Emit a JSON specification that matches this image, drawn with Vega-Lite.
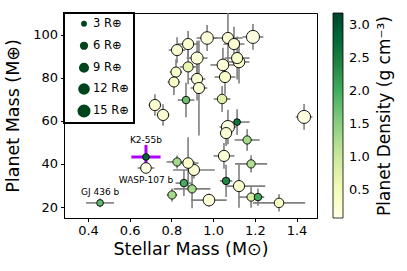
{
  "$schema": "https://vega.github.io/schema/vega-lite/v6.json",
  "autosize": {"type": "none"},
  "padding": {"left": 64, "top": 13, "right": 90, "bottom": 53},
  "width": 253,
  "height": 205,
  "background": "white",
  "config": {
    "font": "DejaVu Sans",
    "view": {"stroke": "black", "strokeWidth": 1},
    "axis": {
      "grid": false,
      "domainColor": "black",
      "tickColor": "black",
      "tickSize": 3.5,
      "labelColor": "black",
      "labelFontSize": 13,
      "labelPadding": 3,
      "titleColor": "black",
      "titleFontSize": 17.5,
      "titleFontWeight": "normal"
    },
    "legend": {"strokeWidth": 2}
  },
  "resolve": {"axis": {"y": "independent"}},
  "data": {
    "values": [
      {"name": "", "ms": 0.971, "mslo": 0.921, "mshi": 1.021, "mp": 98.4, "mplo": 92.4, "mphi": 104.4, "r": 14, "rho": 0.15},
      {"name": "", "ms": 1.071, "mslo": 1.001, "mshi": 1.141, "mp": 98.4, "mplo": 86, "mphi": 118, "r": 11, "rho": 0.25},
      {"name": "", "ms": 1.100, "mslo": 1.05, "mshi": 1.15, "mp": 95.6, "mplo": 87.6, "mphi": 103.6, "r": 11, "rho": 0.25},
      {"name": "", "ms": 1.191, "mslo": 1.141, "mshi": 1.241, "mp": 98.9, "mplo": 92.9, "mphi": 104.9, "r": 15, "rho": 0.12},
      {"name": "", "ms": 0.880, "mslo": 0.83, "mshi": 0.93, "mp": 95.6, "mplo": 89.6, "mphi": 101.6, "r": 11, "rho": 0.25},
      {"name": "", "ms": 0.827, "mslo": 0.787, "mshi": 0.867, "mp": 92.8, "mplo": 86.8, "mphi": 98.8, "r": 11, "rho": 0.25},
      {"name": "", "ms": 0.923, "mslo": 0.873, "mshi": 0.973, "mp": 89.1, "mplo": 81.1, "mphi": 97.1, "r": 13, "rho": 0.18},
      {"name": "", "ms": 0.822, "mslo": 0.792, "mshi": 0.852, "mp": 82.6, "mplo": 76.6, "mphi": 88.6, "r": 9, "rho": 0.3},
      {"name": "", "ms": 0.880, "mslo": 0.84, "mshi": 0.92, "mp": 85.0, "mplo": 77, "mphi": 93, "r": 9, "rho": 0.65},
      {"name": "", "ms": 0.812, "mslo": 0.782, "mshi": 0.842, "mp": 78.0, "mplo": 72, "mphi": 84, "r": 9, "rho": 0.35},
      {"name": "", "ms": 0.923, "mslo": 0.883, "mshi": 0.963, "mp": 79.4, "mplo": 69.4, "mphi": 89.4, "r": 11, "rho": 0.25},
      {"name": "", "ms": 0.932, "mslo": 0.892, "mshi": 0.972, "mp": 75.2, "mplo": 53.2, "mphi": 97.2, "r": 11, "rho": 0.25},
      {"name": "", "ms": 0.870, "mslo": 0.83, "mshi": 0.91, "mp": 69.6, "mplo": 61.6, "mphi": 77.6, "r": 5, "rho": 1.7},
      {"name": "", "ms": 0.721, "mslo": 0.691, "mshi": 0.751, "mp": 67.3, "mplo": 62.3, "mphi": 72.3, "r": 11, "rho": 0.25},
      {"name": "", "ms": 0.760, "mslo": 0.73, "mshi": 0.79, "mp": 62.7, "mplo": 57.7, "mphi": 67.7, "r": 11, "rho": 0.25},
      {"name": "", "ms": 1.047, "mslo": 0.987, "mshi": 1.107, "mp": 85.9, "mplo": 77.9, "mphi": 93.9, "r": 12, "rho": 0.2},
      {"name": "", "ms": 1.115, "mslo": 1.055, "mshi": 1.175, "mp": 89.1, "mplo": 79.1, "mphi": 99.1, "r": 11, "rho": 0.3},
      {"name": "", "ms": 1.124, "mslo": 1.074, "mshi": 1.174, "mp": 87.3, "mplo": 77.3, "mphi": 97.3, "r": 12, "rho": 0.25},
      {"name": "", "ms": 1.057, "mslo": 1.007, "mshi": 1.107, "mp": 80.3, "mplo": 72.3, "mphi": 88.3, "r": 11, "rho": 0.3},
      {"name": "", "ms": 1.043, "mslo": 1.003, "mshi": 1.083, "mp": 70.1, "mplo": 64.1, "mphi": 76.1, "r": 8, "rho": 0.75},
      {"name": "", "ms": 1.115, "mslo": 1.055, "mshi": 1.175, "mp": 59.4, "mplo": 53.4, "mphi": 65.4, "r": 4, "rho": 2.6},
      {"name": "", "ms": 1.071, "mslo": 1.031, "mshi": 1.111, "mp": 57.1, "mplo": 49.1, "mphi": 65.1, "r": 15, "rho": 0.12},
      {"name": "", "ms": 1.062, "mslo": 1.032, "mshi": 1.092, "mp": 54.3, "mplo": 48.3, "mphi": 60.3, "r": 11, "rho": 0.25},
      {"name": "", "ms": 1.163, "mslo": 1.103, "mshi": 1.223, "mp": 51.1, "mplo": 46.1, "mphi": 56.1, "r": 6, "rho": 1.3},
      {"name": "", "ms": 1.436, "mslo": 1.396, "mshi": 1.476, "mp": 61.8, "mplo": 55.8, "mphi": 67.8, "r": 15, "rho": 0.12},
      {"name": "", "ms": 1.052, "mslo": 1.002, "mshi": 1.102, "mp": 43.7, "mplo": 37.7, "mphi": 49.7, "r": 11, "rho": 0.25},
      {"name": "", "ms": 1.182, "mslo": 1.105, "mshi": 1.259, "mp": 40.0, "mplo": 36, "mphi": 44, "r": 6, "rho": 1.2},
      {"name": "", "ms": 1.062, "mslo": 1.032, "mshi": 1.092, "mp": 32.1, "mplo": 24.6, "mphi": 39.6, "r": 5, "rho": 2.4},
      {"name": "", "ms": 1.124, "mslo": 1.06, "mshi": 1.25, "mp": 29.7, "mplo": 19.7, "mphi": 39.7, "r": 11, "rho": 0.3},
      {"name": "", "ms": 1.182, "mslo": 1.122, "mshi": 1.242, "mp": 24.6, "mplo": 19.6, "mphi": 29.6, "r": 6, "rho": 0.85},
      {"name": "", "ms": 1.215, "mslo": 1.185, "mshi": 1.245, "mp": 24.6, "mplo": 20.6, "mphi": 28.6, "r": 5, "rho": 2.0},
      {"name": "", "ms": 1.316, "mslo": 1.191, "mshi": 1.441, "mp": 21.9, "mplo": 17.9, "mphi": 25.9, "r": 8, "rho": 0.35},
      {"name": "", "ms": 0.980, "mslo": 0.895, "mshi": 1.065, "mp": 23.2, "mplo": 20.2, "mphi": 26.2, "r": 12, "rho": 0.2},
      {"name": "", "ms": 0.899, "mslo": 0.811, "mshi": 0.987, "mp": 28.4, "mplo": 19.4, "mphi": 37.4, "r": 6, "rho": 1.3},
      {"name": "", "ms": 0.803, "mslo": 0.778, "mshi": 0.828, "mp": 25.6, "mplo": 22.6, "mphi": 28.6, "r": 6, "rho": 1.3},
      {"name": "", "ms": 0.860, "mslo": 0.82, "mshi": 0.9, "mp": 31.1, "mplo": 25.1, "mphi": 37.1, "r": 5, "rho": 2.0},
      {"name": "", "ms": 0.827, "mslo": 0.777, "mshi": 0.877, "mp": 40.9, "mplo": 37.9, "mphi": 43.9, "r": 6, "rho": 1.3},
      {"name": "", "ms": 0.880, "mslo": 0.83, "mshi": 0.93, "mp": 40.4, "mplo": 28.4, "mphi": 52.4, "r": 10, "rho": 0.3},
      {"name": "", "ms": 0.908, "mslo": 0.808, "mshi": 1.008, "mp": 37.2, "mplo": 33.2, "mphi": 41.2, "r": 11, "rho": 0.25},
      {"name": "WASP-107 b", "ms": 0.678, "mslo": 0.638, "mshi": 0.718, "mp": 38.1, "mplo": 36.1, "mphi": 40.1, "r": 10, "rho": 0.12},
      {"name": "K2-55b", "ms": 0.678, "mslo": 0.608, "mshi": 0.748, "mp": 43.2, "mplo": 37.6, "mphi": 48.8, "r": 4, "rho": 2.8},
      {"name": "GJ 436 b", "ms": 0.458, "mslo": 0.391, "mshi": 0.525, "mp": 21.9, "mplo": 19.9, "mphi": 23.9, "r": 4, "rho": 1.8}
    ]
  },
  "layer": [
    {
      "transform": [{"filter": "datum.name !== 'K2-55b'"}],
      "mark": {"type": "rule", "color": "#7f7f7f", "strokeWidth": 1.6, "clip": true},
      "encoding": {
        "x": {"field": "mslo", "type": "quantitative", "scale": {"domain": [0.285, 1.498], "nice": false, "zero": false},
              "axis": {"values": [0.4, 0.6, 0.8, 1.0, 1.2, 1.4], "format": ".1f", "title": "Stellar Mass (M⊙)", "titlePadding": 3}},
        "x2": {"field": "mshi"},
        "y": {"field": "mp", "type": "quantitative", "scale": {"domain": [14.9, 110], "nice": false, "zero": false},
              "axis": {"values": [20, 40, 60, 80, 100], "title": "Planet Mass (M⊕)", "titlePadding": 10}}
      }
    },
    {
      "transform": [{"filter": "datum.name !== 'K2-55b'"}],
      "mark": {"type": "rule", "color": "#7f7f7f", "strokeWidth": 1.6, "clip": true},
      "encoding": {
        "x": {"field": "ms", "type": "quantitative"},
        "y": {"field": "mplo", "type": "quantitative", "axis": null},
        "y2": {"field": "mphi"}
      }
    },
    {
      "transform": [{"filter": "datum.name === 'K2-55b'"}],
      "mark": {"type": "rule", "color": "#b000ff", "strokeWidth": 3},
      "encoding": {
        "x": {"field": "mslo", "type": "quantitative"},
        "x2": {"field": "mshi"},
        "y": {"field": "mp", "type": "quantitative", "axis": null}
      }
    },
    {
      "transform": [{"filter": "datum.name === 'K2-55b'"}],
      "mark": {"type": "rule", "color": "#b000ff", "strokeWidth": 3},
      "encoding": {
        "x": {"field": "ms", "type": "quantitative"},
        "y": {"field": "mplo", "type": "quantitative", "axis": null},
        "y2": {"field": "mphi"}
      }
    },
    {
      "mark": {"type": "circle", "opacity": 1, "stroke": "black", "strokeWidth": 0.9},
      "encoding": {
        "x": {"field": "ms", "type": "quantitative"},
        "y": {"field": "mp", "type": "quantitative",
              "axis": {"orient": "right", "labels": false, "ticks": false, "domain": false, "grid": false,
                       "title": "Planet Density (g cm⁻³)", "titleAngle": 270, "titleBaseline": "top",
                       "titleFontSize": 17, "titlePadding": 59}},
        "size": {
          "field": "r", "type": "quantitative",
          "scale": {"type": "linear", "domain": [0, 15], "range": [0, 170], "zero": true},
          "legend": {
            "orient": "none", "legendX": 0, "legendY": 0,
            "title": null,
            "values": [3, 6, 9, 12, 15],
            "labelExpr": "datum.label + ' R⊕'",
            "labelFontSize": 11.5,
            "labelColor": "black",
            "symbolFillColor": "#00441b",
            "symbolStrokeColor": "#00441b",
            "symbolStrokeWidth": 0,
            "symbolOpacity": 1,
            "fillColor": "white",
            "strokeColor": "black",
            "padding": 5,
            "rowPadding": 9,
            "symbolOffset": 8,
            "labelOffset": 2
          }
        },
        "color": {
          "field": "rho", "type": "quantitative",
          "scale": {
            "type": "linear",
            "domain": [0.08, 0.4675, 0.855, 1.2425, 1.63, 2.0175, 2.405, 2.7925, 3.18],
            "range": ["#ffffe5", "#f7fcb9", "#d9f0a3", "#addd8e", "#78c679", "#41ab5d", "#238443", "#006837", "#004529"],
            "interpolate": "rgb"
          },
          "legend": {
            "orient": "none", "legendX": 269, "legendY": 0,
            "title": null,
            "gradientLength": 205,
            "gradientThickness": 10,
            "gradientStrokeColor": "black",
            "gradientStrokeWidth": 0.8,
            "values": [0.5, 1.0, 1.5, 2.0, 2.5, 3.0],
            "format": ".1f",
            "labelFontSize": 13,
            "labelColor": "black",
            "labelOffset": 6,
            "padding": 0,
            "strokeColor": null
          }
        },
        "order": {"field": "r", "type": "quantitative", "sort": "descending"}
      }
    },
    {
      "transform": [{"filter": "datum.name === 'K2-55b'"}],
      "mark": {"type": "text", "fontSize": 9, "dy": -17, "color": "black"},
      "encoding": {
        "x": {"field": "ms", "type": "quantitative"},
        "y": {"field": "mp", "type": "quantitative", "axis": null},
        "text": {"field": "name"}
      }
    },
    {
      "transform": [{"filter": "datum.name === 'WASP-107 b'"}],
      "mark": {"type": "text", "fontSize": 9, "dy": 12, "color": "black"},
      "encoding": {
        "x": {"field": "ms", "type": "quantitative"},
        "y": {"field": "mp", "type": "quantitative", "axis": null},
        "text": {"field": "name"}
      }
    },
    {
      "transform": [{"filter": "datum.name === 'GJ 436 b'"}],
      "mark": {"type": "text", "fontSize": 9, "dy": -11, "color": "black"},
      "encoding": {
        "x": {"field": "ms", "type": "quantitative"},
        "y": {"field": "mp", "type": "quantitative", "axis": null},
        "text": {"field": "name"}
      }
    }
  ]
}
